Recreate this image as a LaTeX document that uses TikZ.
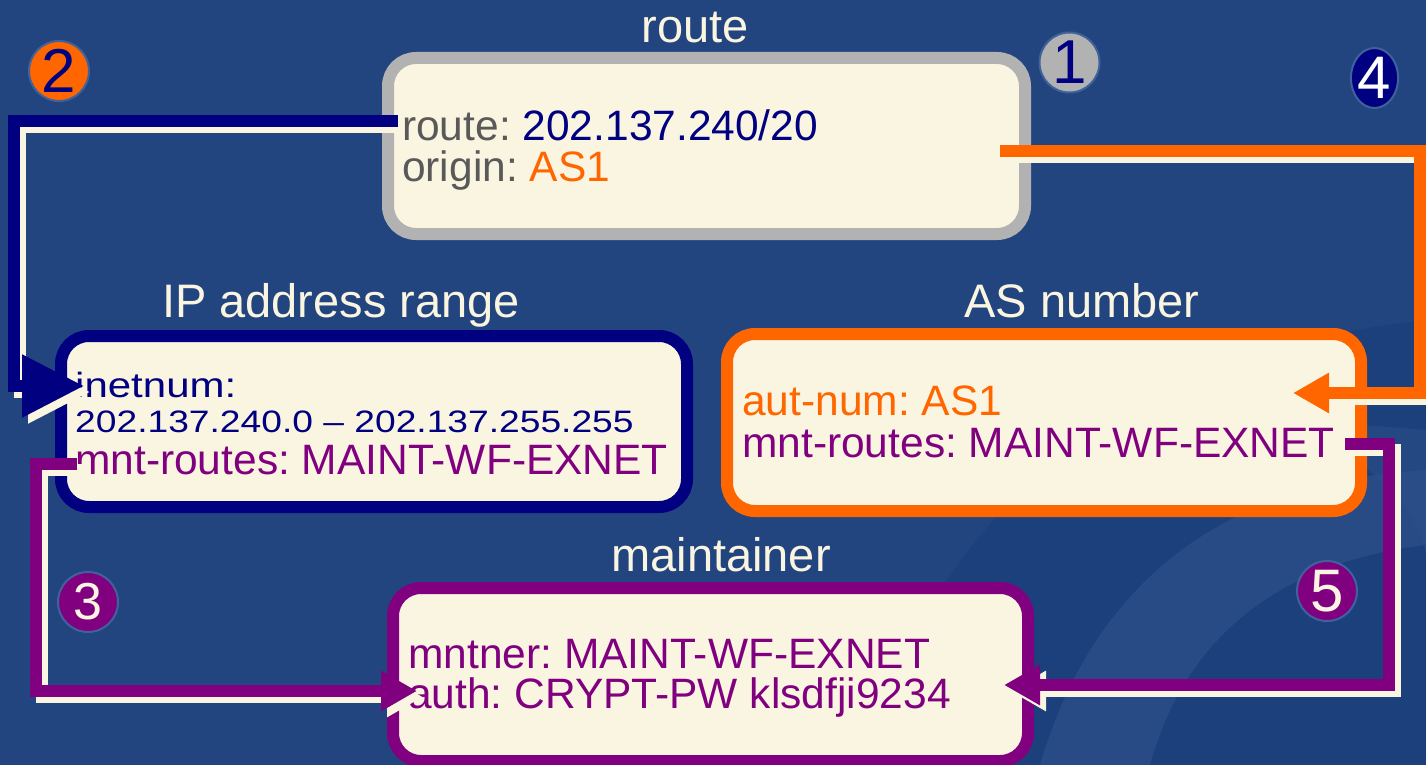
\documentclass[tikz,border=0pt]{standalone}
\usepackage{fontspec}
\setmainfont{Liberation Sans}
\newfontfamily\widefont[FakeStretch=1.2]{Liberation Sans}
\usetikzlibrary{arrows.meta,shapes.geometric}
\frenchspacing
\definecolor{bg}{HTML}{22457F}
\definecolor{bgdark}{HTML}{173C7A}
\definecolor{bglight}{HTML}{2E5089}
\definecolor{cream}{HTML}{FAF5E1}
\definecolor{navy}{HTML}{000080}
\definecolor{orng}{HTML}{FF6600}
\definecolor{purp}{HTML}{800080}
\definecolor{grayb}{HTML}{B2B2B2}
\definecolor{grayt}{HTML}{595959}
\definecolor{ring}{HTML}{3F629C}
\tikzset{
  boxst/.style={shape=rectangle, draw=#1, line width=12pt, fill=cream, rounded corners=28pt, inner sep=0pt},
  txt/.style={anchor=base west, inner sep=0pt, font=\fontsize{42.5}{42}\selectfont},
  wtxt/.style={anchor=base west, inner sep=0pt},
  ttl/.style={anchor=base, inner sep=0pt, text=cream, font=\fontsize{47}{47}\selectfont},
  badge/.style={circle, draw=ring, line width=2pt, fill=#1, inner sep=0pt, minimum size=60pt},
  conn/.style={draw=#1, line width=12pt, line join=miter, line cap=butt},
  shd/.style={draw=cream, line width=12pt, line join=miter, line cap=butt},
  bigtip/.style={-{Triangle[length=62pt,width=60pt]}},
  smalltip/.style={-{Triangle[length=36pt,width=38pt]}}
}
\begin{document}
\begin{tikzpicture}[x=1pt,y=-1pt]
\useasboundingbox (0,0) rectangle (1426,765);
\fill[bg] (0,0) rectangle (1426,765);
% background swirl
\fill[bgdark, opacity=0.55] (1426,320) .. controls (1150,350) and (950,480) .. (860,765) -- (1426,765) -- cycle;
\fill[bglight, opacity=0.7] (1426,470) .. controls (1250,480) and (1100,560) .. (1040,765) -- (1150,765) .. controls (1190,620) and (1300,560) .. (1426,545) -- cycle;
\fill[bglight, opacity=0.5] (1300,420) .. controls (1380,470) and (1426,520) .. (1426,560) -- (1426,430) -- cycle;

% boxes
\node[boxst=grayb, minimum width=637pt, minimum height=176pt] (route) at (706.5,146) {};
\node[boxst=navy, minimum width=626pt, minimum height=171pt] (ip) at (374,421.5) {};
\node[boxst=orng, minimum width=634pt, minimum height=177pt] (as) at (1044,422.5) {};
\node[boxst=purp, minimum width=635pt, minimum height=173pt] (mnt) at (710.5,674.5) {};

% titles
\node[ttl] (troute) at (695,43) {route};
\node[ttl] (tip) at (341,317) {IP address range};
\node[ttl] (tas) at (1082,317) {AS number};
\node[ttl] (tmnt) at (721,571) {maintainer};

% box texts
\node[txt] (r1) at (402,140) {\textcolor{grayt}{route:} \textcolor{navy}{202.137.240/20}};
\node[txt] (r2) at (402,181) {\textcolor{grayt}{origin:} \textcolor{orng}{AS1}};
\node[wtxt, text=navy, font=\widefont\fontsize{35}{35}\selectfont] (i1) at (75,397) {inetnum:};
\node[wtxt, text=navy, font=\widefont\fontsize{31}{31}\selectfont] (i2) at (75,432) {202.137.240.0 – 202.137.255.255};
\node[txt, text=purp] (i3) at (75,474) {mnt-routes: MAINT-WF-EXNET};
\node[txt, text=orng] (a1) at (742,415) {aut-num: AS1};
\node[txt, text=purp] (a2) at (742,457) {mnt-routes: MAINT-WF-EXNET};
\node[txt, text=purp] (m1) at (408,668) {mntner: MAINT-WF-EXNET};
\node[txt, text=purp] (m2) at (408,708) {auth: CRYPT-PW klsdfji9234};

% connector anchor points
\coordinate (s2) at (398,121); \coordinate (k2) at (14,121); \coordinate (e2) at (84,386);
\coordinate (s4) at (1000,151); \coordinate (k4) at (1420,151); \coordinate (e4) at (1293,393);
\coordinate (s3) at (77,464); \coordinate (k3) at (36,464); \coordinate (e3) at (417,691);
\coordinate (s5) at (1345,444); \coordinate (k5) at (1389,444); \coordinate (e5) at (1004,685);

% shadows
\draw[shd, bigtip] ([shift={(6,6)}]s2) -- ([shift={(6,6)}]k2) |- ([shift={(6,6)}]e2);
\draw[shd, smalltip] ([shift={(6,6)}]s4) -- ([shift={(6,6)}]k4) |- ([shift={(6,6)}]e4);
\draw[shd, smalltip] ([shift={(6,6)}]s3) -- ([shift={(6,6)}]k3) |- ([shift={(6,6)}]e3);
\draw[shd, smalltip] ([shift={(6,6)}]s5) -- ([shift={(6,6)}]k5) |- ([shift={(6,6)}]e5);

% connectors
\draw[conn=navy, bigtip] (s2) -- (k2) |- (e2);
\draw[conn=orng, smalltip] (s4) -- (k4) |- (e4);
\draw[conn=purp, smalltip] (s3) -- (k3) |- (e3);
\draw[conn=purp, smalltip] (s5) -- (k5) |- (e5);

% numbered badges
\node[badge=grayb, text=navy, font=\fontsize{62}{62}\selectfont] (b1) at (1069.5,62.5) {1};
\node[badge=orng, text=navy, font=\fontsize{62}{62}\selectfont] (b2) at (59,71) {2};
\node[badge=purp, text=cream, font=\fontsize{52}{52}\selectfont] (b3) at (88,602) {3};
\node[ellipse, draw=ring, line width=2pt, fill=navy, inner sep=0pt, minimum width=43pt, minimum height=60pt, text=white, font=\fontsize{60}{60}\selectfont] (b4) at (1374.5,78) {4};
\node[badge=purp, text=cream, font=\fontsize{60}{60}\selectfont] (b5) at (1327,591) {5};
\end{tikzpicture}
\end{document}
